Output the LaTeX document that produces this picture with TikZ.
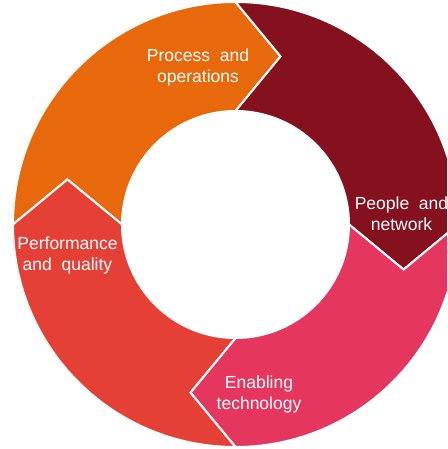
\documentclass[tikz,border=0pt]{standalone}
\usepackage{fontspec}
\setmainfont{Liberation Sans}
\usepackage{tikz}
\definecolor{procorange}{HTML}{E8680C}
\definecolor{peoplered}{HTML}{86111E}
\definecolor{techpink}{HTML}{E4365E}
\definecolor{perfred}{HTML}{E54036}
\tikzstyle{segment}=[draw=white,line width=2pt,line join=miter]
\tikzstyle{label}=[text=white,align=center,inner sep=0pt,font=\fontsize{17.5}{21}\selectfont]

\begin{document}
\begin{tikzpicture}[x=1pt,y=1pt]
      \clip (-235.5,-224.5) rectangle (211.5,224.5);
      % ring segments, each pointing clockwise into the next one
      \foreach \b/\col in {90/procorange, 0/peoplered, -90/techpink, 180/perfred}
        \fill[segment,fill=\col] (\b:222.5) arc[start angle=\b, end angle=\b+90, radius=222.5]
          -- (\b+75:174) -- (\b+90:113.5)
          arc[start angle=\b+90, end angle=\b, radius=113.5]
          -- (\b-15:174) -- cycle;
      \node[label] at (-37.5, 157.5) (process) {Process\ \ and\\operations};
      \node[label] at (166, 10.5) (people) {People\ \ and\\network};
      \node[label] at (23.5,-169.5) (enabling) {Enabling\\technology};
      \node[label] at (-168,-31) (performance) {Performance\\and\ \ quality};
  	\end{tikzpicture}
\end{document}
